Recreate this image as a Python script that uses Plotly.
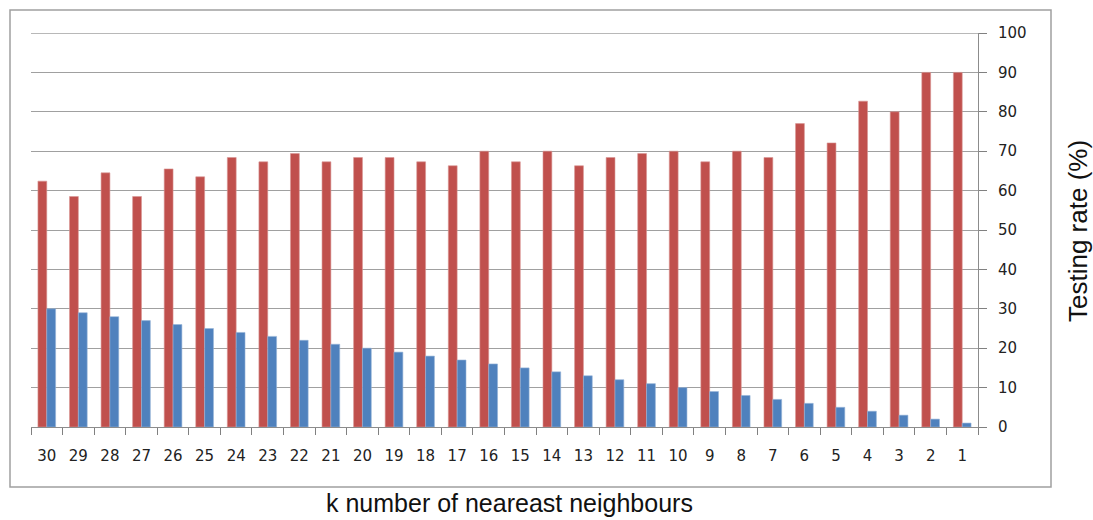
import plotly.graph_objects as go

k_labels = [str(k) for k in range(30, 0, -1)]
k_values = list(range(30, 0, -1))
testing_rate = [62.4, 58.5, 64.5, 58.5, 65.5, 63.5, 68.4, 67.3, 69.4, 67.3,
                68.4, 68.4, 67.3, 66.3, 70.0, 67.3, 70.0, 66.3, 68.4, 69.4,
                70.0, 67.3, 70.0, 68.4, 77.0, 72.1, 82.7, 80.0, 90.0, 90.0]

y_ticks = list(range(0, 101, 10))

fig = go.Figure()
fig.add_trace(go.Bar(x=k_labels, y=testing_rate, name="Testing rate",
                     marker=dict(color="#C0504D", line=dict(color="#D99694", width=0.6))))
fig.add_trace(go.Bar(x=k_labels, y=k_values, name="k",
                     marker=dict(color="#4F81BD", line=dict(color="#95B3D7", width=0.6))))

L, R, T, B = 31, 978, 33, 427
W, H = 1093, 520
pw, ph = R - L, B - T

def px(x):
    return (x - L) / pw

def py(y):
    return (B - y) / ph

fig.update_layout(
    width=W, height=H,
    margin=dict(l=L, r=W - R, t=T, b=H - B),
    paper_bgcolor="white", plot_bgcolor="white",
    showlegend=False,
    barmode="group", bargap=0.44, bargroupgap=0,
    font=dict(family="DejaVu Sans", size=15, color="#222222"),
    xaxis=dict(
        type="category", categoryorder="array", categoryarray=k_labels,
        tickson="boundaries", ticks="outside", ticklen=7, tickcolor="#808080",
        showline=True, linecolor="#8C8C8C", linewidth=1,
        showgrid=False, ticklabelstandoff=15,
        tickfont=dict(family="DejaVu Sans", size=15, color="#222222"),
    ),
    yaxis=dict(
        side="right", range=[0, 100], tickvals=y_ticks,
        showgrid=True, gridcolor="#A0A0A0", gridwidth=1.4,
        showline=True, linecolor="#8C8C8C", linewidth=1,
        ticks="outside", ticklen=8, tickcolor="#808080",
        ticklabelstandoff=8, zeroline=False,
        tickfont=dict(family="DejaVu Sans", size=15, color="#222222"),
    ),
    shapes=[
        dict(type="rect", xref="paper", yref="paper",
             x0=px(10), x1=px(1051), y0=py(487), y1=py(10),
             line=dict(color="#A0A0A0", width=1.5), fillcolor="rgba(0,0,0,0)",
             layer="below"),
        dict(type="line", xref="paper", yref="y", x0=0, x1=1, y0=100, y1=100,
             line=dict(color="#A0A0A0", width=1.4), layer="below"),
    ],
    annotations=[
        dict(text="k number of neareast neighbours", xref="paper", yref="paper",
             x=px(509), y=py(503), showarrow=False, xanchor="center", yanchor="middle",
             font=dict(family="Liberation Sans", size=25, color="#111111")),
        dict(text="Testing rate (%)", xref="paper", yref="paper",
             x=px(1078), y=py(231), showarrow=False, textangle=-90,
             xanchor="center", yanchor="middle",
             font=dict(family="Liberation Sans", size=26, color="#111111")),
    ],
)

fig.write_html("out.html", config={"displayModeBar": False},
               post_script="document.body.style.margin='0px';")
